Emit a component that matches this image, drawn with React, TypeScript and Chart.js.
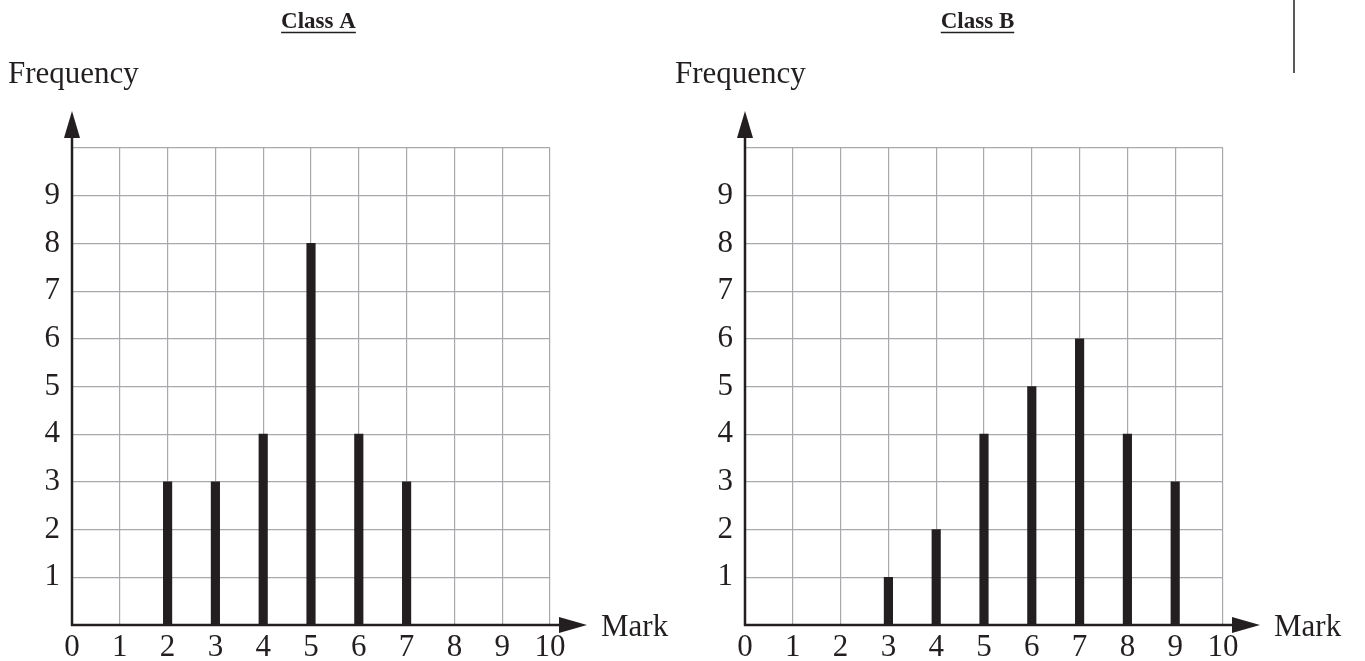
import React, { useEffect, useRef } from "react";
import { Chart, registerables } from "chart.js";

Chart.register(...registerables);

const marks = ["0", "1", "2", "3", "4", "5", "6", "7", "8", "9", "10"];
const classAFrequency = [0, 0, 3, 3, 4, 8, 4, 3, 0, 0, 0];
const classBFrequency = [0, 0, 0, 1, 2, 4, 5, 6, 4, 3, 0];
const frequencyTicks = [1, 2, 3, 4, 5, 6, 7, 8, 9];

const INK = "#231f20";
const GRID = "#a7a9ac";
const FONT = "'Liberation Serif', 'Times New Roman', serif";

const decorPlugin = {
  id: "decor",
  afterDraw(chart: any, _args: any, opts: any) {
    const ctx = chart.ctx;
    const ca = chart.chartArea;
    const x0 = ca.left;
    const y0 = ca.bottom;
    ctx.save();
    ctx.strokeStyle = INK;
    ctx.fillStyle = INK;
    ctx.lineWidth = 2.5;
    // y axis
    const yTip = ca.top - 37;
    ctx.beginPath();
    ctx.moveTo(x0, y0 + 1);
    ctx.lineTo(x0, yTip + 20);
    ctx.stroke();
    ctx.beginPath();
    ctx.moveTo(x0, yTip);
    ctx.lineTo(x0 - 8, yTip + 27);
    ctx.lineTo(x0 + 8, yTip + 27);
    ctx.closePath();
    ctx.fill();
    // x axis
    const xTip = ca.right + 37;
    ctx.beginPath();
    ctx.moveTo(x0 - 1, y0);
    ctx.lineTo(xTip - 20, y0);
    ctx.stroke();
    ctx.beginPath();
    ctx.moveTo(xTip, y0);
    ctx.lineTo(xTip - 28, y0 - 8);
    ctx.lineTo(xTip - 28, y0 + 8);
    ctx.closePath();
    ctx.fill();

    // texts
    ctx.font = `31px ${FONT}`;
    ctx.textBaseline = "alphabetic";
    ctx.textAlign = "left";
    ctx.fillText("Frequency", opts.freqX, 83);
    ctx.fillText("Mark", xTip + 14, y0 + 11);

    ctx.font = `bold 23px ${FONT}`;
    ctx.textAlign = "center";
    ctx.fillText(opts.title, opts.titleX, 28);
    const w = ctx.measureText(opts.title).width;
    ctx.lineWidth = 1.5;
    ctx.beginPath();
    ctx.moveTo(opts.titleX - w / 2, 32.5);
    ctx.lineTo(opts.titleX + w / 2, 32.5);
    ctx.stroke();

    if (opts.divider) {
      ctx.strokeStyle = "#58595b";
      ctx.lineWidth = 2;
      ctx.beginPath();
      ctx.moveTo(opts.divider, 0);
      ctx.lineTo(opts.divider, 73);
      ctx.stroke();
    }
    ctx.restore();
  },
};

function makeConfig(data: number[], decor: any): any {
  return {
    type: "bar",
    data: {
      labels: marks,
      datasets: [
        {
          data,
          backgroundColor: INK,
          borderWidth: 0,
          barThickness: 8.5,
        },
      ],
    },
    options: {
      animation: false,
      responsive: false,
      maintainAspectRatio: false,
      layout: { padding: { left: 0, top: 148, right: 130, bottom: 0 } },
      plugins: {
        legend: { display: false },
        tooltip: { enabled: false },
        title: { display: false },
        decor,
      },
      scales: {
        x: {
          type: "category",
          offset: false,
          grid: { offset: false, color: GRID, lineWidth: 1.2, drawTicks: false },
          border: { display: false },
          ticks: {
            font: { family: FONT, size: 31 },
            color: INK,
            padding: 4,
            maxRotation: 0,
            autoSkip: false,
          },
          afterFit: (s: any) => {
            s.height = 36;
          },
        },
        y: {
          min: 0,
          max: 10,
          grid: { color: GRID, lineWidth: 1.2, drawTicks: false },
          border: { display: false },
          ticks: {
            stepSize: 1,
            font: { family: FONT, size: 31 },
            color: INK,
            padding: 12,
            callback: (v: any) => (frequencyTicks.includes(Number(v)) ? String(v) : ""),
          },
          afterFit: (s: any) => {
            s.width = 72;
          },
        },
      },
    },
    plugins: [decorPlugin],
  };
}

export default function App() {
  const refA = useRef<HTMLCanvasElement>(null);
  const refB = useRef<HTMLCanvasElement>(null);

  useEffect(() => {
    const a = new Chart(
      refA.current as HTMLCanvasElement,
      makeConfig(classAFrequency, { title: "Class A", titleX: 318.5, freqX: 8 })
    );
    const b = new Chart(
      refB.current as HTMLCanvasElement,
      makeConfig(classBFrequency, { title: "Class B", titleX: 304.5, freqX: 2, divider: 621 })
    );
    return () => {
      a.destroy();
      b.destroy();
    };
  }, []);

  return (
    <div
      style={{
        position: "absolute",
        left: 0,
        top: 0,
        width: 1365,
        height: 661,
        background: "#fff",
        overflow: "hidden",
      }}
    >
      <canvas
        ref={refA}
        width={680}
        height={661}
        style={{ position: "absolute", left: 0, top: 0, width: 680, height: 661 }}
      />
      <canvas
        ref={refB}
        width={680}
        height={661}
        style={{ position: "absolute", left: 673, top: 0, width: 680, height: 661 }}
      />
    </div>
  );
}
